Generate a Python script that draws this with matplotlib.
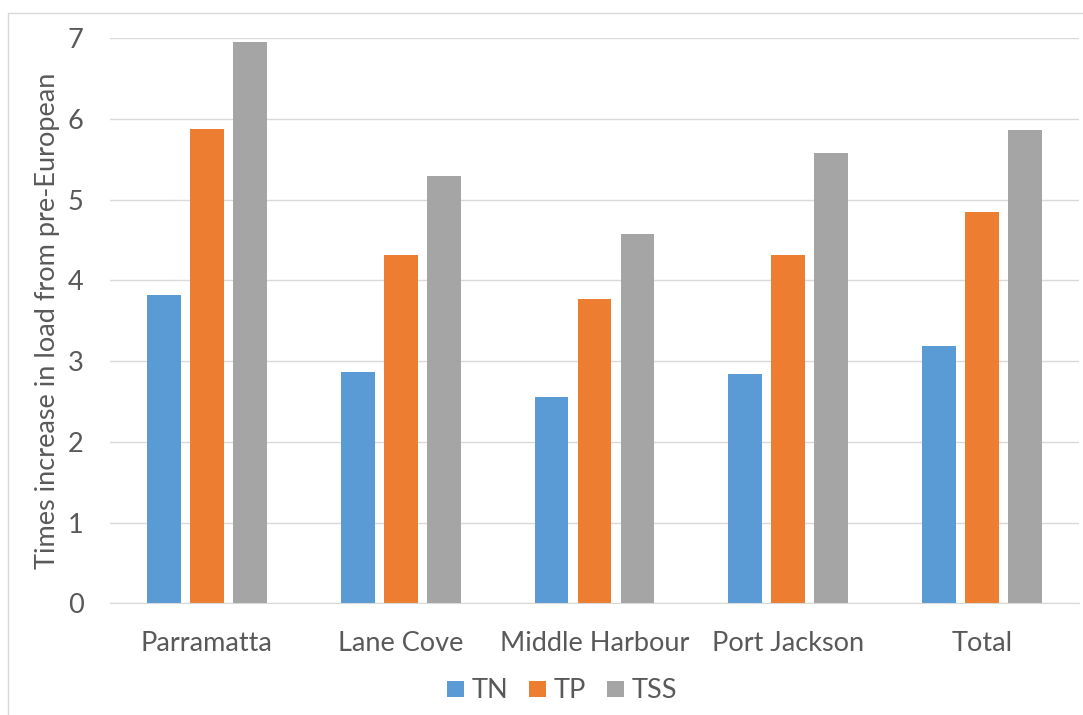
import numpy as np
import matplotlib
matplotlib.use("Agg")
import matplotlib.pyplot as plt
from matplotlib.patches import Rectangle

plt.rcParams['font.family'] = ['Lato', 'DejaVu Sans']

categories = ['Parramatta', 'Lane Cove', 'Middle Harbour', 'Port Jackson', 'Total']
series_names = ['TN', 'TP', 'TSS']
tn = [3.82, 2.86, 2.56, 2.84, 3.19]
tp = [5.88, 4.32, 3.77, 4.31, 4.85]
tss = [6.96, 5.29, 4.57, 5.58, 5.87]
colors = ['#5b9bd5', '#ed7d31', '#a5a5a5']
yticks = [0, 1, 2, 3, 4, 5, 6, 7]

W, H = 1083, 715
fs = 19.5
fig = plt.figure(figsize=(W / 100, H / 100), dpi=100)
ax = fig.add_axes([110 / W, 1 - 603.3 / H, (1079 - 110) / W, (603.3 - 38.3) / H])

# outer chart border, partly cut off like the screenshot
fig.patches.append(Rectangle((8 / W, -0.1), 1.2, 1 - 13 / H + 0.1,
                             transform=fig.transFigure, fill=False,
                             edgecolor='#d9d9d9', lw=1))

x = np.arange(len(categories))
width = 0.175
step = 0.222
for i, (vals, name) in enumerate(zip([tn, tp, tss], series_names)):
    ax.bar(x + (i - 1) * step, vals, width, color=colors[i], label=name, zorder=3)

ax.set_xlim(-0.5, len(categories) - 0.5)
ax.set_ylim(0, 7)
ax.set_yticks(yticks)
ax.set_xticks(x)
ax.set_xticklabels(categories)
ax.tick_params(axis='both', length=0, labelsize=fs, colors='#595959')
ax.tick_params(axis='y', pad=19)
ax.tick_params(axis='x', pad=20)
ax.grid(axis='y', color='#d9d9d9', lw=1, zorder=0)
for s in ['top', 'right', 'left']:
    ax.spines[s].set_visible(False)
ax.spines['bottom'].set_color('#d9d9d9')
ax.spines['bottom'].set_zorder(4)

ax.set_ylabel('Times increase in load from pre-European', fontsize=fs, color='#595959')
ax.yaxis.set_label_coords(-50 / (1079 - 110), 0.5)

fig.legend(loc='center', bbox_to_anchor=(562 / W, 1 - 691 / H), ncol=3, frameon=False,
           fontsize=fs, labelcolor='#595959', handlelength=0.63, handleheight=0.55,
           handletextpad=0.3, columnspacing=0.75, borderpad=0, borderaxespad=0)

fig.savefig('out.png', dpi=100)
